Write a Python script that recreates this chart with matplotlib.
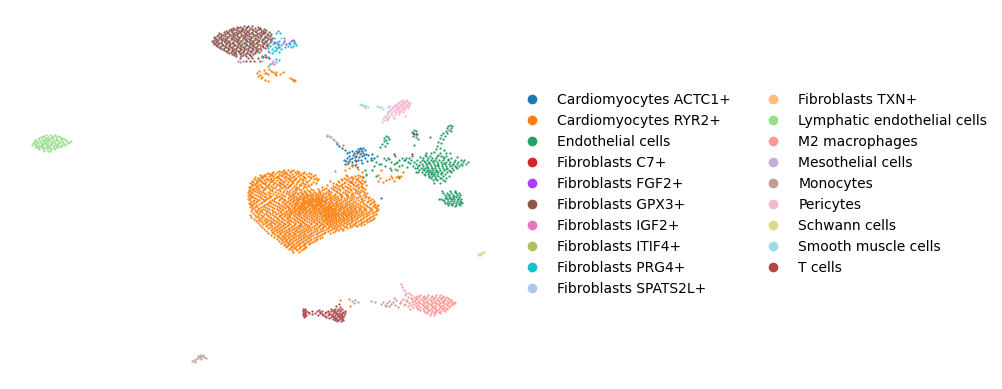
import matplotlib
matplotlib.use("Agg")
import matplotlib.pyplot as plt
from matplotlib.lines import Line2D

# UMAP points, in image pixels. Dense clusters are kept
# as scan rows (y -> xs), small ones as (x, y) pairs.
categories = [
    "Cardiomyocytes ACTC1+", "Cardiomyocytes RYR2+", "Endothelial cells",
    "Fibroblasts C7+", "Fibroblasts FGF2+", "Fibroblasts GPX3+",
    "Fibroblasts IGF2+", "Fibroblasts ITIF4+", "Fibroblasts PRG4+",
    "Fibroblasts SPATS2L+", "Fibroblasts TXN+", "Lymphatic endothelial cells",
    "M2 macrophages", "Mesothelial cells", "Monocytes", "Pericytes",
    "Schwann cells", "Smooth muscle cells", "T cells",
]
colors = [
    "#1f77b4", "#ff7f0e", "#279e68", "#d62728", "#aa40fc", "#8c564b", "#e377c2",
    "#b5bd61", "#17becf", "#aec7e8", "#ffbb78", "#98df8a", "#ff9896", "#c5b0d5",
    "#c49c94", "#f7b6d2", "#dbdb8d", "#9edae5", "#ad494a",
]

ryr2_rows = {
    170: [284, 288, 293],
    172: [273, 277, 281, 286, 290, 295, 299, 304],
    174: [266, 270, 275, 279, 283, 287, 292, 296, 301, 306, 311],
    176: [262, 265, 269, 273, 278, 282, 285, 290, 294, 298, 303, 308, 313, 347, 355, 360],
    178: [258, 262, 267, 271, 274, 279, 284, 288, 291, 296, 300, 305, 311, 316, 344, 349, 353, 358],
    180: [256, 260, 264, 268, 273, 277, 281, 286, 290, 294, 299, 303, 309, 317, 342, 347, 352, 357, 362],
    182: [253, 257, 262, 266, 270, 275, 279, 284, 288, 292, 297, 302, 307, 313, 339, 345, 350, 355, 360, 364],
    184: [252, 255, 260, 265, 269, 273, 277, 282, 287, 291, 296, 300, 305, 311, 336, 342, 348, 353, 358, 362],
    186: [251, 256, 261, 266, 271, 276, 280, 285, 289, 294, 299, 304, 309, 333, 339, 345, 350, 356, 361],
    188: [250, 254, 259, 264, 269, 275, 281, 286, 292, 297, 303, 326, 331, 337, 343, 348, 353, 358, 363],
    190: [249, 253, 258, 263, 270, 277, 284, 290, 296, 301, 307, 313, 322, 328, 334, 340, 345, 351, 356, 361],
    192: [248, 252, 257, 262, 268, 275, 283, 289, 295, 300, 305, 310, 315, 320, 326, 331, 337, 343, 349, 355, 360, 364],
    194: [249, 254, 260, 266, 273, 281, 288, 294, 298, 303, 307, 311, 316, 320, 325, 330, 335, 341, 347, 353, 359, 365],
    196: [248, 252, 258, 264, 271, 279, 285, 291, 296, 300, 304, 308, 311, 315, 319, 323, 327, 332, 337, 342, 348, 354, 360, 366],
    198: [250, 255, 261, 268, 275, 282, 288, 293, 297, 301, 304, 307, 310, 313, 316, 319, 322, 325, 329, 333, 338, 344, 350, 356, 362, 368],
    200: [250, 254, 259, 265, 272, 279, 285, 290, 294, 298, 302, 305, 308, 311, 314, 317, 320, 323, 326, 330, 334, 339, 345, 351, 358, 364, 370],
    202: [251, 256, 262, 269, 276, 282, 287, 292, 296, 300, 303, 306, 309, 312, 315, 318, 321, 324, 328, 332, 336, 341, 347, 353, 360, 367, 373],
    204: [250, 253, 259, 266, 273, 279, 284, 289, 294, 297, 301, 304, 307, 310, 313, 316, 319, 322, 325, 329, 333, 337, 342, 347, 352, 358, 364, 370, 375],
    206: [252, 257, 263, 270, 277, 282, 287, 291, 295, 299, 302, 305, 308, 311, 314, 317, 320, 323, 327, 330, 334, 338, 342, 346, 351, 356, 361, 367, 373, 377],
    208: [253, 259, 267, 274, 280, 285, 289, 293, 297, 300, 303, 306, 310, 313, 316, 319, 323, 326, 329, 332, 335, 339, 343, 347, 351, 355, 360, 365, 371, 376],
    210: [255, 261, 265, 272, 278, 283, 288, 292, 296, 300, 304, 308, 312, 316, 320, 324, 327, 330, 333, 336, 340, 344, 348, 352, 356, 361, 366, 372, 377],
    212: [256, 262, 269, 275, 281, 286, 291, 295, 299, 303, 307, 311, 315, 319, 323, 326, 329, 332, 335, 338, 342, 345, 349, 353, 357, 362, 368, 374],
    214: [258, 264, 270, 276, 282, 287, 291, 296, 300, 305, 310, 315, 320, 324, 327, 330, 333, 336, 339, 343, 346, 350, 354, 359, 364, 369, 376],
    216: [258, 263, 268, 274, 279, 284, 289, 294, 299, 304, 309, 314, 319, 323, 326, 329, 332, 335, 338, 342, 346, 350, 355, 360, 366, 372],
    218: [259, 265, 271, 277, 282, 287, 292, 297, 302, 307, 312, 317, 322, 326, 329, 333, 336, 340, 344, 348, 352, 357, 363, 369, 374],
    220: [258, 264, 269, 274, 279, 285, 290, 295, 300, 305, 311, 316, 321, 325, 329, 332, 336, 340, 344, 349, 354, 360, 366, 371],
    222: [262, 267, 272, 277, 282, 287, 293, 298, 303, 309, 314, 319, 324, 328, 332, 336, 341, 346, 351, 356, 362, 367],
    224: [263, 269, 275, 280, 285, 290, 295, 301, 306, 311, 317, 322, 327, 331, 336, 341, 347, 353, 359, 364],
    226: [266, 272, 277, 282, 287, 292, 298, 303, 309, 314, 319, 325, 330, 335, 340, 346, 352, 357],
    228: [268, 274, 279, 284, 289, 294, 299, 305, 310, 316, 322, 328, 334, 340, 347],
    230: [271, 276, 281, 286, 291, 296, 301, 306, 311, 317, 323, 330, 338, 343],
    232: [272, 277, 282, 287, 292, 297, 302, 307, 313, 319, 325, 333],
    234: [275, 280, 285, 290, 295, 300, 305, 310, 316, 322],
    236: [277, 282, 286, 291, 296, 301, 306, 311, 318],
    238: [280, 284, 288, 293, 298, 303, 308, 314, 320],
    240: [282, 286, 290, 295, 300, 305, 310, 316],
    242: [283, 287, 292, 297, 302, 307, 312],
    244: [285, 289, 294, 299, 304, 309],
    246: [287, 291, 296, 301, 305],
    248: [290, 294, 299, 304],
    250: [292, 297, 301],
}
# second pass on the odd rows, clumpier, fills in what the even rows miss
ryr2_rows_b = {
    171: [279, 283, 291, 297],
    173: [268, 272, 284, 285, 298, 303, 309],
    175: [260, 264, 271, 272, 281, 289, 300, 315, 346, 358],
    177: [255, 261, 263, 276, 277, 286, 293, 304, 310, 351, 352, 362],
    179: [254, 259, 266, 270, 280, 289, 295, 302, 314, 318, 341, 346, 356],
    181: [252, 258, 261, 271, 272, 283, 292, 298, 306, 330, 338, 349, 359, 365],
    183: [250, 256, 263, 264, 274, 280, 281, 293, 303, 316, 333, 344, 352, 361],
    185: [253, 258, 268, 279, 284, 290, 301, 308, 327, 337, 341, 354, 357, 366],
    187: [249, 257, 262, 267, 273, 283, 288, 296, 306, 322, 335, 342, 347, 359, 362],
    189: [252, 256, 265, 272, 279, 295, 299, 311, 318, 324, 333, 339, 350, 355, 365],
    191: [250, 255, 260, 272, 280, 287, 293, 304, 309, 319, 329, 336, 347, 358, 363],
    193: [251, 259, 264, 270, 278, 286, 292, 297, 302, 306, 313, 318, 323, 328, 339, 345, 352, 357, 367],
    195: [250, 256, 262, 269, 276, 283, 290, 293, 301, 306, 309, 313, 317, 322, 329, 334, 340, 346, 351, 363],
    197: [251, 253, 260, 266, 270, 277, 281, 289, 294, 299, 303, 306, 312, 317, 321, 325, 330, 335, 341, 347, 352, 358, 365, 369],
    199: [248, 257, 263, 266, 274, 280, 284, 291, 296, 299, 303, 309, 312, 315, 318, 321, 327, 331, 336, 341, 347, 353, 361, 372],
    201: [253, 257, 264, 270, 274, 283, 288, 293, 297, 304, 307, 310, 313, 316, 319, 322, 325, 331, 337, 343, 349, 355, 362, 368, 374],
    203: [249, 254, 261, 268, 271, 278, 285, 290, 295, 298, 302, 305, 308, 311, 317, 320, 326, 330, 335, 339, 345, 350, 356, 363, 371],
    205: [251, 256, 264, 268, 275, 281, 286, 292, 296, 300, 303, 309, 312, 315, 318, 321, 324, 328, 332, 336, 340, 345, 349, 354, 360, 366, 374, 378],
    207: [250, 255, 261, 265, 272, 279, 284, 288, 294, 298, 301, 304, 307, 312, 315, 321, 325, 328, 331, 336, 341, 344, 349, 353, 358, 363, 369, 375],
    209: [252, 258, 263, 269, 277, 282, 290, 295, 299, 302, 305, 309, 314, 318, 322, 325, 328, 331, 334, 338, 341, 346, 350, 354, 359, 364, 370, 378],
    211: [251, 257, 260, 267, 273, 280, 286, 290, 294, 298, 302, 306, 310, 314, 318, 322, 325, 328, 332, 335, 339, 343, 347, 351, 355, 359, 364, 370, 376],
    213: [253, 259, 266, 272, 278, 284, 289, 293, 298, 301, 305, 309, 313, 317, 321, 325, 328, 331, 334, 337, 341, 344, 348, 351, 356, 361, 366, 372],
    215: [250, 255, 261, 267, 273, 280, 285, 289, 294, 298, 303, 307, 312, 317, 322, 325, 328, 331, 334, 337, 341, 345, 348, 352, 357, 362, 367, 374],
    217: [251, 256, 262, 270, 276, 281, 287, 290, 296, 301, 306, 311, 316, 321, 325, 328, 331, 335, 339, 343, 347, 351, 354, 358, 364, 370],
    219: [254, 261, 267, 273, 278, 283, 288, 294, 299, 304, 309, 314, 319, 324, 327, 331, 334, 338, 342, 346, 351, 356, 361, 367, 373],
    221: [256, 260, 266, 271, 276, 281, 288, 291, 297, 302, 307, 313, 318, 323, 327, 330, 334, 338, 343, 347, 352, 358, 364, 369],
    223: [258, 265, 270, 274, 279, 284, 289, 295, 300, 304, 311, 316, 321, 326, 330, 334, 339, 344, 349, 355, 361],
    225: [260, 267, 271, 278, 283, 288, 294, 299, 305, 308, 315, 320, 324, 329, 333, 338, 343, 350, 355, 361],
    227: [262, 270, 275, 280, 285, 291, 296, 301, 307, 312, 318, 323, 328, 332, 337, 344, 350],
    229: [264, 272, 277, 282, 288, 293, 297, 303, 308, 314, 320, 326, 332, 336, 342],
    231: [266, 274, 279, 284, 289, 295, 299, 304, 309, 315, 321, 328, 335],
    233: [268, 273, 280, 285, 289, 294, 300, 304, 311, 317, 324, 330],
    235: [271, 278, 283, 288, 293, 298, 303, 308, 313, 320],
    237: [274, 279, 284, 289, 294, 299, 304, 309, 316, 322],
    239: [277, 282, 286, 291, 296, 301, 306, 311, 317],
    241: [279, 285, 289, 293, 298, 303, 308, 314],
    243: [281, 288, 291, 296, 300, 305, 310],
    245: [284, 288, 293, 298, 303],
    247: [286, 292, 295, 300, 306],
    249: [289, 296, 303],
    252: [293, 299],
}
ryr2_extra = [
    (335, 171), (345, 170), (349, 168), (352, 166), (358, 169), (362, 172), (356, 164), (366, 174),
    (378, 181), (380, 178), (383, 182), (386, 180), (389, 179), (392, 178), (394, 181), (396, 177),
    (398, 176), (399, 178), (401, 176), (403, 172), (381, 170), (378, 175), (395, 169), (391, 176),
    (259, 71), (257, 73), (260, 75), (258, 76), (262, 77), (261, 78), (265, 80), (268, 81), (268, 66),
    (269, 69), (271, 71), (273, 72), (283, 72), (280, 74), (276, 75), (276, 72), (275, 74), (290, 78),
    (292, 79), (293, 80), (294, 81), (295, 80), (264, 70), (265, 73), (268, 74), (266, 73),
    (340, 300), (349, 299), (350, 306), (343, 145), (337, 143), (355, 155), (361, 153), (347, 164),
]
gpx3_rows = {
    26: [244, 248, 252],
    28: [233, 238, 242, 246, 250, 255, 260],
    30: [229, 233, 237, 241, 245, 249, 253, 257, 261, 266],
    32: [224, 228, 232, 236, 240, 244, 248, 252, 256, 261, 265, 269],
    34: [221, 225, 229, 233, 237, 241, 245, 249, 253, 257, 262, 267, 271],
    36: [217, 221, 225, 229, 233, 237, 241, 245, 249, 253, 257, 261, 265, 270],
    38: [215, 219, 223, 227, 231, 235, 239, 243, 247, 251, 255, 260, 264, 268, 272],
    40: [214, 218, 222, 226, 230, 234, 238, 242, 246, 250, 254, 258, 262, 267, 271],
    42: [213, 217, 221, 225, 229, 233, 237, 241, 245, 249, 253, 257, 262, 266, 270],
    44: [214, 218, 222, 226, 230, 234, 238, 242, 246, 250, 254, 258, 263, 268],
    46: [217, 221, 225, 229, 233, 237, 241, 245, 249, 253, 257, 262, 267],
    48: [220, 224, 228, 232, 236, 240, 244, 248, 252, 256, 260, 265],
    50: [224, 228, 232, 236, 240, 244, 248, 252, 256, 261],
    52: [227, 231, 235, 239, 243, 247, 251, 255, 259],
    54: [232, 236, 240, 245, 249, 253],
    56: [236, 241, 246, 251, 262],
    58: [240, 248, 252, 258],
    61: [246, 250, 254, 260],
}
gpx3_rows_b = {
    27: [237, 240, 247, 258],
    29: [231, 235, 243, 252, 259, 264],
    31: [226, 231, 239, 242, 247, 255, 263],
    33: [219, 227, 234, 238, 246, 251, 259, 264],
    35: [218, 223, 231, 235, 243, 247, 255, 260, 268],
    37: [214, 220, 227, 233, 239, 244, 251, 258, 266],
    39: [216, 221, 225, 232, 237, 245, 249, 256, 263, 270],
    41: [212, 216, 224, 228, 236, 240, 247, 252, 259, 265],
    43: [215, 219, 227, 232, 239, 244, 251, 256, 264],
    45: [216, 223, 229, 235, 240, 247, 252, 260, 266],
    47: [219, 226, 231, 238, 243, 250, 255, 263],
    49: [222, 229, 234, 241, 246, 253, 258],
    51: [226, 233, 238, 243, 250, 257],
    53: [229, 234, 241, 247, 255],
    55: [234, 243, 250],
}
endothelial_rows = {
    153: [426, 431, 440, 446, 450],
    156: [377, 395, 412, 426, 430, 437, 441, 446],
    158: [384, 388, 402, 406, 409, 423, 428, 432, 436, 444, 451],
    160: [372, 386, 399, 404, 411, 417, 422, 427, 431, 435, 439, 443, 448, 455, 461],
    162: [376, 391, 397, 408, 414, 420, 425, 429, 433, 437, 441, 446, 450, 454, 458, 463, 468],
    164: [381, 394, 416, 422, 426, 430, 434, 438, 442, 445, 449, 453, 457, 461, 466],
    166: [374, 385, 399, 413, 418, 423, 427, 431, 435, 438, 442, 446, 450, 455, 459],
    168: [390, 417, 421, 425, 428, 432, 435, 439, 443, 447, 452, 457],
    170: [372, 397, 419, 424, 427, 430, 433, 436, 440, 444, 449, 453],
    172: [416, 422, 426, 429, 432, 435, 438, 442, 447, 451],
    174: [424, 428, 431, 434, 437, 441, 445],
    176: [429, 432, 435, 438, 443, 449],
    178: [431, 435, 440, 446],
    180: [433, 437, 443],
    183: [434, 440],
    191: [442, 450, 455],
    193: [447, 451, 456, 459],
    195: [445, 449, 453, 457, 460],
    197: [446, 450, 453, 456, 459],
    199: [441, 447, 451, 454, 458, 461],
    201: [444, 448, 451, 454, 457, 460],
    203: [445, 449, 453, 456, 459, 462],
    205: [448, 452, 456, 460],
}
endothelial_extra = [
    (450, 125), (448, 126), (452, 126), (447, 128), (451, 128), (449, 130), (446, 131), (451, 131),
    (443, 133), (447, 133), (441, 135), (445, 136), (440, 138), (443, 139), (438, 142), (441, 143),
    (437, 146), (440, 148), (436, 149), (444, 150), (386, 136), (384, 138), (388, 137), (386, 140),
    (389, 139), (384, 141), (382, 144), (387, 143), (380, 147), (385, 146), (414, 130), (412, 132),
    (416, 131), (414, 134), (417, 134), (413, 136), (416, 137), (418, 139), (430, 137), (414, 145),
    (379, 164), (376, 176), (366, 175), (371, 160), (391, 170), (399, 177), (365, 170), (439, 199),
    (420, 157), (425, 155), (434, 152), (438, 155), (443, 157), (448, 159), (457, 157), (464, 160),
    (424, 161), (428, 163), (433, 161), (437, 165), (444, 163), (452, 165), (456, 167), (462, 165),
    (419, 165), (423, 169), (428, 171), (432, 168), (437, 171), (441, 173), (446, 169), (450, 171),
    (425, 175), (429, 177), (433, 174), (436, 179), (441, 178), (445, 181), (431, 172), (427, 167),
    (405, 160), (410, 163), (402, 165), (407, 167), (415, 168), (418, 172), (396, 163), (389, 159),
    (443, 193), (448, 195), (452, 199), (455, 192), (458, 199), (447, 203), (451, 204), (455, 206),
    (443, 200), (461, 202), (449, 198), (445, 198), (454, 196), (459, 204),
]
actc1_xy = [
    (337, 144), (339, 146), (342, 148), (345, 150), (347, 153), (349, 156), (352, 158), (355, 157),
    (358, 149), (360, 148), (363, 148), (356, 151), (359, 151), (362, 151), (365, 150), (354, 153),
    (357, 153), (360, 154), (363, 153), (366, 154), (349, 152), (352, 151), (356, 156), (359, 157),
    (362, 156), (347, 158), (350, 159), (344, 160), (346, 161), (349, 161), (352, 162), (355, 160),
    (358, 160), (361, 160), (345, 164), (352, 165), (355, 165), (357, 167), (368, 155), (372, 154),
    (374, 158), (371, 158), (365, 158), (362, 163), (367, 161), (363, 177), (351, 182), (300, 225),
    (320, 213), (288, 207), (381, 198), (361, 149), (358, 152), (364, 155), (353, 155), (348, 163),
]
c7_xy = [(263, 57), (266, 57), (265, 55), (269, 58), (413, 133), (416, 134), (412, 154), (394, 154), (356, 161)]
fgf2_xy = [(291, 41), (286, 44), (284, 41), (278, 44), (263, 33), (274, 42), (289, 43), (279, 47), (293, 40)]
igf2_xy = [(240, 62), (243, 61), (273, 61), (272, 63), (274, 64), (238, 61), (247, 38), (268, 51), (276, 62), (254, 52)]
itif4_xy = [(241, 43), (242, 42), (331, 137), (333, 139), (230, 40)]
prg4_xy = [
    (278, 31), (280, 33), (276, 33), (279, 41), (273, 44), (275, 47), (278, 45), (283, 43), (270, 46),
    (268, 48), (276, 50), (279, 52), (272, 53), (265, 55), (294, 43), (296, 45), (293, 46), (290, 44),
    (285, 47), (281, 49), (268, 57), (276, 59), (279, 60), (262, 57), (284, 38), (274, 38), (277, 42),
    (271, 41), (288, 46), (294, 41), (246, 42), (272, 49), (270, 64), (281, 45), (275, 43), (277, 48),
    (291, 47), (295, 43), (274, 51), (269, 52),
]
spats2l_xy = [(262, 61), (281, 38)]
txn_xy = [(365, 108), (394, 118)]
lymphatic_rows = {
    135: [46, 50, 55],
    136: [43, 53, 58],
    137: [41, 44, 48, 52, 56, 60],
    138: [39, 46, 51, 62],
    139: [38, 42, 46, 49, 53, 57, 61, 64],
    140: [35, 44, 48, 56, 66],
    141: [36, 40, 43, 47, 50, 54, 58, 62, 66, 71],
    142: [34, 38, 45, 52, 60, 69],
    143: [33, 37, 41, 44, 48, 52, 55, 59, 63, 68],
    144: [35, 42, 46, 51, 57, 65],
    145: [32, 36, 39, 43, 47, 50, 54, 58, 62, 65],
    146: [37, 41, 48, 56, 61],
    147: [35, 39, 42, 46, 50, 53, 57, 60],
    148: [38, 44, 49, 54],
    149: [39, 43, 47, 51, 55],
    151: [44, 48, 50],
}
m2_rows = {
    284: [401],
    287: [402],
    290: [404],
    293: [406, 409],
    295: [405, 411, 420, 428, 436, 440],
    296: [417, 424, 432, 443],
    297: [408, 414, 419, 423, 427, 431, 435, 439, 443, 446],
    298: [411, 416, 425, 434, 441, 448],
    299: [403, 412, 417, 421, 425, 429, 433, 437, 441, 445, 449],
    300: [406, 415, 423, 431, 438, 444, 451],
    301: [401, 407, 414, 419, 423, 427, 431, 435, 439, 443, 447, 451],
    302: [412, 418, 426, 434, 442, 449, 454],
    303: [409, 416, 420, 424, 428, 432, 436, 440, 444, 448, 452, 455],
    304: [405, 414, 422, 430, 438, 446, 453],
    305: [404, 411, 418, 423, 427, 431, 435, 439, 443, 447, 451],
    306: [408, 416, 425, 433, 441, 449],
    307: [413, 420, 424, 428, 432, 436, 440, 444, 449],
    308: [417, 426, 434, 442, 446],
    309: [410, 418, 423, 427, 431, 435, 439, 443, 447],
    310: [420, 429, 437, 444],
    311: [424, 428, 432, 436, 441, 445],
    312: [425, 434, 439],
    313: [427, 431, 435, 440],
    315: [430, 434],
}
mesothelial_xy = [(327, 135), (329, 136), (330, 137)]
monocytes_xy = [
    (192, 361), (194, 360), (196, 359), (198, 358), (200, 357), (202, 356), (204, 357), (206, 358),
    (198, 356), (201, 359), (195, 362), (203, 355), (200, 355),
    (352, 301), (355, 300), (358, 302), (354, 303), (371, 301), (375, 302),
    (381, 304), (383, 302), (385, 305), (387, 303), (389, 301), (391, 304), (393, 302), (386, 306),
    (389, 306), (395, 305), (396, 300), (394, 298), (400, 303), (398, 307),
    (327, 136), (334, 140), (336, 142),
]
pericytes_rows = {
    100: [403, 406],
    101: [401, 407],
    102: [399, 402, 405, 408],
    103: [398, 404, 410],
    104: [397, 400, 403, 406, 409],
    105: [395, 402, 407],
    106: [394, 397, 400, 403, 406, 409],
    107: [393, 399, 405],
    108: [392, 396, 399, 402, 405, 408],
    109: [391, 397, 403],
    110: [390, 394, 398, 401, 404],
    111: [389, 395, 400],
    112: [388, 392, 396, 399, 403],
    114: [387, 391, 395, 399],
    116: [385, 389, 393, 405],
    118: [383, 388],
    120: [384, 387],
    122: [382],
}
schwann_xy = [(478, 254), (479, 255), (480, 255), (481, 254), (482, 253), (483, 252), (480, 253), (484, 252)]
smooth_muscle_xy = [
    (360, 104), (361, 105), (362, 105), (363, 105), (364, 106), (365, 106), (366, 106), (368, 107),
    (377, 106), (379, 107), (381, 107), (383, 109), (388, 107), (389, 106), (386, 117), (388, 112), (387, 119),
]
t_cells_rows = {
    309: [303, 305, 331, 335, 338, 342],
    310: [304, 319, 333, 340],
    311: [303, 306, 312, 317, 322, 328, 331, 334, 337, 340],
    312: [305, 308, 320, 326, 335, 343],
    313: [303, 305, 309, 315, 320, 325, 329, 333, 336, 339, 342, 345],
    314: [304, 312, 322, 330, 337, 341],
    315: [303, 306, 318, 323, 328, 332, 335, 338, 341, 344],
    316: [305, 325, 333, 339, 342],
    317: [304, 326, 331, 334, 337, 340, 343],
    318: [329, 335, 341],
    319: [333, 336, 339, 342],
    320: [335, 338, 343],
    321: [337, 341],
}
t_cells_extra = [(339, 304), (340, 307), (345, 311), (336, 306)]


def expand_rows(*row_sets):
    return [(x, y) for rows in row_sets for y, xs in rows.items() for x in xs]


points = [
    actc1_xy,
    expand_rows(ryr2_rows, ryr2_rows_b) + ryr2_extra,
    expand_rows(endothelial_rows) + endothelial_extra,
    c7_xy,
    fgf2_xy,
    expand_rows(gpx3_rows, gpx3_rows_b),
    igf2_xy,
    itif4_xy,
    prg4_xy,
    spats2l_xy,
    txn_xy,
    expand_rows(lymphatic_rows),
    expand_rows(m2_rows),
    mesothelial_xy,
    monocytes_xy,
    expand_rows(pericytes_rows),
    schwann_xy,
    smooth_muscle_xy,
    expand_rows(t_cells_rows) + t_cells_extra,
]

fig = plt.figure(figsize=(10.02, 3.89), dpi=100)
ax = fig.add_axes([0, 0, 1, 1])

for label, color, xy in zip(categories, colors, points):
    xs, ys = zip(*xy)
    ax.scatter(xs, ys, s=2.6, color=color, linewidths=0, label=label)

ax.set_xlim(0, 1002)
ax.set_ylim(389, 0)
ax.axis("off")

handles = [
    Line2D([], [], linestyle="none", marker="o", markersize=7.0, markeredgewidth=0, color=c)
    for c in colors
]
ax.legend(
    handles,
    categories,
    ncol=2,
    frameon=False,
    loc="center left",
    bbox_to_anchor=(512.4, 194.5),
    bbox_transform=ax.transData,
    borderaxespad=0,
    fontsize=10,
    columnspacing=2.07,
)

fig.savefig("out.png", dpi=100)
plt.close(fig)
